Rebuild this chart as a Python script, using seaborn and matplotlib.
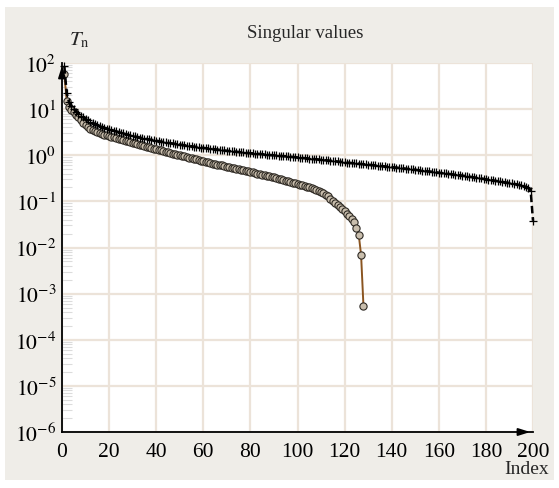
import numpy as np
import pandas as pd
import matplotlib
matplotlib.use("Agg")
import matplotlib.pyplot as plt
from matplotlib.patches import Rectangle
from matplotlib.ticker import LogLocator, FixedLocator, NullFormatter
import seaborn as sns

# ---------------- data ----------------
cross_values = [
    85, 22, 14, 11.5, 10, 8.8, 7.9, 7.2, 6.6, 6.1,
    5.7, 5.3, 5.0, 4.75, 4.5, 4.3, 4.1, 3.95, 3.8, 3.7,
    3.55, 3.42, 3.3, 3.18, 3.07, 2.97, 2.87, 2.78, 2.7, 2.62,
    2.55, 2.48, 2.42, 2.36, 2.3, 2.25, 2.2, 2.15, 2.1, 2.06,
    2.02, 1.98, 1.94, 1.9, 1.86, 1.83, 1.8, 1.77, 1.74, 1.71,
    1.68, 1.65, 1.62, 1.59, 1.57, 1.54, 1.52, 1.49, 1.47, 1.45,
    1.43, 1.41, 1.39, 1.37, 1.35, 1.33, 1.31, 1.29, 1.27, 1.25,
    1.24, 1.22, 1.21, 1.19, 1.18, 1.16, 1.15, 1.14, 1.12, 1.11,
    1.10, 1.09, 1.08, 1.07, 1.06, 1.04, 1.03, 1.02, 1.01, 1.00,
    0.99, 0.98, 0.97, 0.96, 0.95, 0.94, 0.93, 0.92, 0.91, 0.90,
    0.89, 0.88, 0.87, 0.86, 0.85, 0.84, 0.83, 0.82, 0.81, 0.80,
    0.79, 0.78, 0.775, 0.765, 0.755, 0.745, 0.735, 0.725, 0.715, 0.705,
    0.695, 0.688, 0.68, 0.672, 0.665, 0.658, 0.65, 0.643, 0.636, 0.628,
    0.62, 0.613, 0.606, 0.598, 0.59, 0.583, 0.576, 0.569, 0.562, 0.555,
    0.548, 0.541, 0.534, 0.527, 0.52, 0.513, 0.506, 0.499, 0.492, 0.485,
    0.478, 0.471, 0.465, 0.458, 0.452, 0.446, 0.44, 0.434, 0.428, 0.422,
    0.416, 0.41, 0.404, 0.398, 0.392, 0.386, 0.38, 0.374, 0.368, 0.362,
    0.356, 0.35, 0.344, 0.338, 0.332, 0.326, 0.32, 0.314, 0.308, 0.302,
    0.296, 0.29, 0.285, 0.28, 0.275, 0.27, 0.265, 0.26, 0.255, 0.25,
    0.245, 0.24, 0.235, 0.229, 0.222, 0.215, 0.205, 0.192, 0.172, 0.038,
]
cross_index = list(range(1, len(cross_values) + 1))

circle_values = [
    57, 15, 11, 9.5, 8.5, 7.6, 6.6, 5.8, 5.0, 4.5,
    4.1, 3.8, 3.55, 3.35, 3.18, 3.03, 2.9, 2.79, 2.69, 2.6,
    2.51, 2.43, 2.35, 2.27, 2.2, 2.13, 2.06, 2.0, 1.94, 1.88,
    1.82, 1.76, 1.7, 1.64, 1.59, 1.54, 1.49, 1.44, 1.39, 1.35,
    1.31, 1.27, 1.23, 1.19, 1.15, 1.12, 1.09, 1.06, 1.03, 1.0,
    0.97, 0.94, 0.91, 0.88, 0.86, 0.83, 0.81, 0.78, 0.76, 0.74,
    0.72, 0.70, 0.68, 0.66, 0.645, 0.63, 0.615, 0.60, 0.585, 0.57,
    0.555, 0.54, 0.525, 0.51, 0.497, 0.484, 0.471, 0.458, 0.446, 0.434,
    0.423, 0.412, 0.401, 0.39, 0.38, 0.37, 0.36, 0.35, 0.34, 0.33,
    0.32, 0.31, 0.30, 0.29, 0.28, 0.272, 0.264, 0.256, 0.248, 0.24,
    0.232, 0.224, 0.216, 0.208, 0.2, 0.192, 0.184, 0.176, 0.168, 0.16,
    0.15, 0.14, 0.128, 0.115, 0.103, 0.093, 0.084, 0.076, 0.068, 0.061,
    0.054, 0.047, 0.041, 0.035, 0.027, 0.019, 0.0069, 0.00055,
]
circle_index = list(range(1, len(circle_values) + 1))

x_ticks = [0, 20, 40, 60, 80, 100, 120, 140, 160, 180, 200]
y_exponents = [-6, -5, -4, -3, -2, -1, 0, 1, 2]
title_text = "Singular values"
y_label = r"$T_{\mathrm{n}}$"
x_label = "Index"

# ---------------- style ----------------
sns.set_style("white")
plt.rcParams["font.family"] = ["Liberation Serif", "DejaVu Serif"]
plt.rcParams["mathtext.fontset"] = "stix"

W, H, DPI = 559, 489, 100
fig = plt.figure(figsize=(W / DPI, H / DPI), dpi=DPI, facecolor="white")
fig.patches.append(Rectangle((5 / W, 1 - 481 / H), 549 / W, 473 / H,
                             transform=fig.transFigure, facecolor="#efede8",
                             edgecolor="none", zorder=-10))

ax = fig.add_axes([62 / W, 1 - 433 / H, (533 - 62) / W, (433 - 64) / H])
ax.set_facecolor("white")

df_c = pd.DataFrame({"Index": circle_index, "value": circle_values})
df_x = pd.DataFrame({"Index": cross_index, "value": cross_values})

sns.lineplot(data=df_c, x="Index", y="value", ax=ax, color="#8a5420",
             linewidth=1.4, marker="o", markersize=5.2,
             markerfacecolor="#c9bead", markeredgecolor="#2e2a24",
             markeredgewidth=0.8, zorder=3)
sns.lineplot(data=df_x, x="Index", y="value", ax=ax, color="black",
             linewidth=1.8, linestyle=(0, (3, 1.5)), marker="+", markersize=5.5,
             markeredgecolor="black", markeredgewidth=0.9, zorder=4,
             clip_on=False)

ax.set_yscale("log")
ax.set_xlim(0, 200)
ax.set_ylim(1e-6, 1e2)

ax.xaxis.set_major_locator(FixedLocator(x_ticks))
ax.set_xticklabels([str(t) for t in x_ticks])
ax.yaxis.set_major_locator(FixedLocator([10.0 ** e for e in y_exponents]))
ax.set_yticklabels([r"$10^{%d}$" % e for e in y_exponents])
ax.yaxis.set_minor_locator(LogLocator(base=10, subs=np.arange(2, 10), numticks=20))
ax.yaxis.set_minor_formatter(NullFormatter())

ax.grid(True, which="major", color="#ece3d9", linewidth=1.6)
ax.set_axisbelow(True)

ax.tick_params(axis="both", which="major", length=0, labelsize=15.5,
               colors="black", pad=7)
ax.tick_params(axis="y", which="major", pad=4)
ax.tick_params(axis="y", which="minor", direction="in", length=7,
               width=0.8, color="#dcdcdc", left=True)
ax.tick_params(axis="x", which="minor", length=0)

for s in ["top", "right"]:
    ax.spines[s].set_visible(False)
for s in ["left", "bottom"]:
    ax.spines[s].set_color("black")
    ax.spines[s].set_linewidth(1.3)

# arrow heads on axes
ax.annotate("", xy=(1.0, 0), xytext=(0.97, 0), xycoords="axes fraction",
            arrowprops=dict(arrowstyle="-|>,head_length=0.7,head_width=0.22",
                            color="black", lw=1.3), annotation_clip=False)
ax.annotate("", xy=(0, 1.0), xytext=(0, 0.96), xycoords="axes fraction",
            arrowprops=dict(arrowstyle="-|>,head_length=0.7,head_width=0.22",
                            color="black", lw=1.3), annotation_clip=False)

ax.set_xlabel("")
ax.set_ylabel("")
fig.text(305 / W, 1 - 33 / H, title_text, ha="center", va="center", fontsize=13.5)
fig.text(79 / W, 1 - 40 / H, y_label, ha="center", va="center", fontsize=15)
fig.text(549 / W, 1 - 470 / H, x_label, ha="right", va="center", fontsize=14)

fig.savefig("out.png", dpi=DPI, facecolor="white")
